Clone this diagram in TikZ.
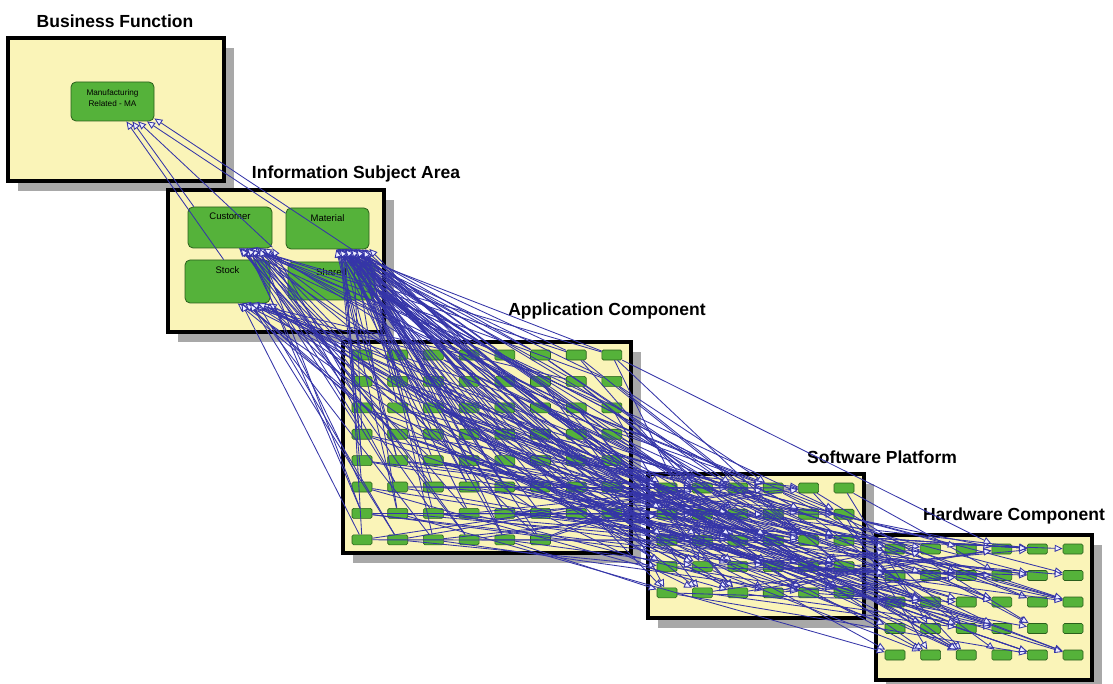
\documentclass[tikz,border=0pt]{standalone}
\usepackage{fontspec}
\setmainfont{Liberation Sans}
\usetikzlibrary{arrows.meta,shadows}
\definecolor{boxfill}{HTML}{FAF4B8}
\definecolor{nodegreen}{HTML}{55B23A}
\definecolor{nodeline}{HTML}{2A5F1C}
\definecolor{linkblue}{HTML}{3535A8}
\definecolor{shadowgray}{HTML}{A8A8A8}
\tikzset{
  layer/.style={draw, line width=3.5pt, fill=boxfill, inner sep=0pt,
    drop shadow={shadow xshift=10pt, shadow yshift=-10pt, fill=shadowgray, opacity=1}},
  title/.style={font=\bfseries\fontsize{17.5}{20}\selectfont},
  big/.style={draw=nodeline, fill=nodegreen, rounded corners=5pt, line width=0.8pt, inner sep=0pt},
  small/.style={draw=nodeline, fill=nodegreen, rounded corners=1.5pt, line width=0.6pt,
    minimum width=20pt, minimum height=10pt, inner sep=0pt},
  link/.style={draw=linkblue, line width=0.85pt, -{Triangle[open, length=8pt, width=7pt, fill=blue!6]}},
}
\begin{document}
\begin{tikzpicture}[x=1pt, y=-1pt]
\useasboundingbox (0,0) rectangle (1113,684);
% layers
\node[layer, minimum width=216pt, minimum height=143pt] (bf) at (116,109.5) {};
\node[layer, minimum width=216pt, minimum height=142pt] (isa) at (276,261) {};
\node[layer, minimum width=288pt, minimum height=211pt] (ac) at (487,447.5) {};
\node[layer, minimum width=216pt, minimum height=144pt] (sp) at (756,546) {};
\node[layer, minimum width=216pt, minimum height=145pt] (hc) at (984,607.5) {};
\node[title] (bf-title) at (115,21) {Business Function};
\node[title] (isa-title) at (356,174) {Information Subject Area};
\node[title] (ac-title) at (607,311) {Application Component};
\node[title] (sp-title) at (882,457) {Software Platform};
\node[title] (hc-title) at (1014,516) {Hardware Component};
% business function and information nodes
\node[big, minimum width=83pt, minimum height=39pt,
  label={[name=ma-text, anchor=north, yshift=-4pt, align=center, font=\fontsize{8.2}{11}\selectfont]north:Manufacturing\\Related - MA}] (ma) at (112.5,101.5) {};
\node[big, minimum width=84pt, minimum height=41pt,
  label={[anchor=north, yshift=-3pt, font=\fontsize{9.5}{11}\selectfont]north:Customer}] (cust) at (230,227.5) {};
\node[big, minimum width=83pt, minimum height=41pt,
  label={[anchor=north, yshift=-3pt, font=\fontsize{9.5}{11}\selectfont]north:Material}] (mat) at (327.5,228.5) {};
\node[big, minimum width=85pt, minimum height=43pt,
  label={[anchor=north, yshift=-3pt, font=\fontsize{9.5}{11}\selectfont]north:Stock}] (stock) at (227.5,281.5) {};
\node[big, minimum width=87pt, minimum height=38pt,
  label={[anchor=north, yshift=-3pt, font=\fontsize{9.5}{11}\selectfont]north:Shared}] (shared) at (331.5,281) {};
% component grids
\foreach \r/\n in {1/8,2/8,3/8,4/8,5/8,6/8,7/8,8/6}
  \foreach \c in {1,...,\n}
    \node[small] (a-\r-\c) at ({362+35.7*(\c-1)},{355+26.4*(\r-1)}) {};
\foreach \r in {1,...,5}
  \foreach \c in {1,...,6} {
    \node[small] (s-\r-\c) at ({667+35.4*(\c-1)},{488+26.2*(\r-1)}) {};
    \node[small] (h-\r-\c) at ({895+35.6*(\c-1)},{549+26.5*(\r-1)}) {};
  }
% links to the business function
\draw[link] (stock.100) -- (ma.-55);
\draw[link] (cust.150) -- (ma.-45);
\draw[link] (cust.-25) -- (ma.-38);
\draw[link] (mat.160) -- (ma.-30);
\draw[link] (shared.20) -- (ma.-22);
% links between the layers
\pgfmathsetseed{21}
\pgfmathdeclarerandomlist{info}{{cust}{mat}{stock}{mat}}
\foreach \k in {1,2}
  \foreach \r/\n in {1/8,2/8,3/8,4/8,5/8,6/8,7/8,8/6}
    \foreach \c in {1,...,\n} {
      \pgfmathrandomitem{\tgt}{info}
      \pgfmathrandominteger{\ang}{-68}{-26}
      \draw[link] (a-\r-\c) -- (\tgt.\ang);
      \pgfmathrandominteger{\sr}{1}{5}
      \pgfmathrandominteger{\sc}{1}{6}
      \draw[link] (a-\r-\c) -- (s-\sr-\sc);
    }
\foreach \r in {1,...,5}
  \foreach \c in {1,...,6}
    \foreach \k in {1,2} {
      \pgfmathrandominteger{\hr}{1}{5}
      \pgfmathrandominteger{\hcol}{1}{6}
      \draw[link] (s-\r-\c) -- (h-\hr-\hcol);
    }
\foreach \k in {1,...,30} {
  \pgfmathrandominteger{\ar}{1}{7}
  \pgfmathrandominteger{\ac}{1}{8}
  \pgfmathrandominteger{\hr}{1}{5}
  \pgfmathrandominteger{\hcol}{1}{6}
  \draw[link] (a-\ar-\ac) -- (h-\hr-\hcol);
}
\foreach \k in {1,...,10} {
  \pgfmathrandominteger{\sr}{1}{3}
  \pgfmathrandominteger{\sc}{1}{6}
  \draw[link] (shared.-10) -- (s-\sr-\sc);
}
\end{tikzpicture}
\end{document}
